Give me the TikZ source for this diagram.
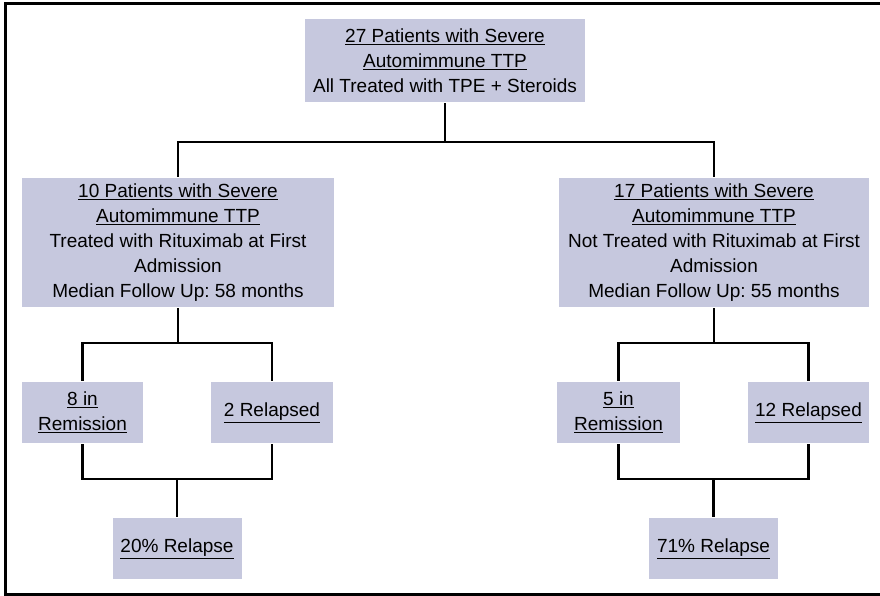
\documentclass[tikz,border=0pt]{standalone}
\usepackage{fontspec}
\setmainfont{Liberation Sans}
\definecolor{boxfill}{RGB}{198,200,222}
\frenchspacing

\begin{document}
\begin{tikzpicture}[x=1pt, y=-1pt, line width=2.7pt,
    box/.style={fill=boxfill, align=center, inner sep=0pt, minimum height=61pt,
      font=\fontsize{19}{25}\selectfont}]
    \useasboundingbox (0,0) rectangle (880,595);
    \draw[line width=3pt] (880,3) -- (5,3) -- (5,594) -- (880,594);
    % boxes
    \node[box, minimum width=280pt, minimum height=83pt] (top) at (445,60.5)
      {\underline{27 Patients with Severe}\\ \underline{Automimmune TTP}\\ All Treated with TPE + Steroids};
    \node[box, minimum width=312pt, minimum height=129pt] (lt) at (178,242.5)
      {\underline{10 Patients with Severe}\\ \underline{Automimmune TTP}\\ Treated with Rituximab at First\\ Admission\\ Median Follow Up: 58 months};
    \node[box, minimum width=310pt, minimum height=129pt] (rt) at (714,242.5)
      {\underline{17 Patients with Severe}\\ \underline{Automimmune TTP}\\ Not Treated with Rituximab at First\\ Admission\\ Median Follow Up: 55 months};
    \node[box, minimum width=121pt] (lrem) at (82.5,412.5) {\underline{8 in}\\ \underline{Remission}};
    \node[box, minimum width=122pt] (lrel) at (272,412.5) {\underline{2 Relapsed}};
    \node[box, minimum width=123pt] (rrem) at (618.5,412.5) {\underline{5 in}\\ \underline{Remission}};
    \node[box, minimum width=121pt] (rrel) at (808.5,412.5) {\underline{12 Relapsed}};
    \node[box, minimum width=129pt] (lpct) at (177,548.5) {\underline{20\% Relapse}};
    \node[box, minimum width=129pt] (rpct) at (713.5,548.5) {\underline{71\% Relapse}};
    % branch points
    \coordinate (tsplit) at (445,142);
    \coordinate (lsplit) at (178,343);
    \coordinate (rsplit) at (714,343);
    \coordinate (ljoin) at (177,479);
    \coordinate (rjoin) at (713.5,479);
    % connectors
    \draw (top.south) -- (tsplit);
    \draw (tsplit) -| (lt.north);
    \draw (tsplit) -| (rt.north);
    \draw (lt.south) -- (lsplit) -| (lrem.north);
    \draw (lsplit) -| (lrel.north);
    \draw (rt.south) -- (rsplit) -| (rrem.north);
    \draw (rsplit) -| (rrel.north);
    \draw (lrem.south) |- (ljoin) -| (lrel.south);
    \draw (ljoin) -- (lpct.north);
    \draw (rrem.south) |- (rjoin) -| (rrel.south);
    \draw (rjoin) -- (rpct.north);
\end{tikzpicture}
\end{document}
